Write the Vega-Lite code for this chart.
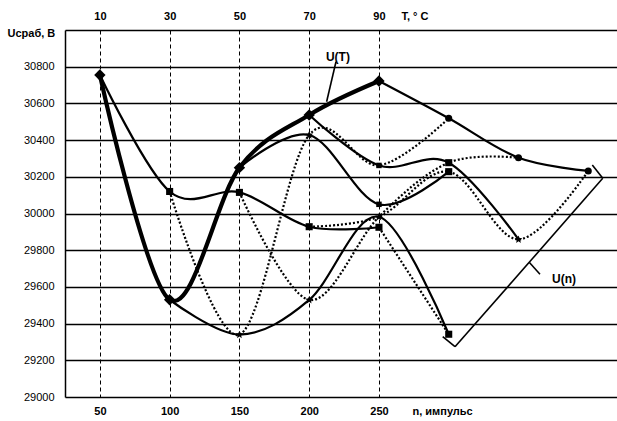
{
  "$schema": "https://vega.github.io/schema/vega-lite/v6.json",
  "width": 552,
  "height": 367,
  "autosize": {"type": "none"},
  "padding": {"left": 65, "top": 30, "right": 0, "bottom": 24},
  "background": "white",
  "config": {
    "view": {"stroke": null},
    "font": "Liberation Sans",
    "axis": {
      "labelFont": "Liberation Sans",
      "labelFontSize": 11,
      "labelFontWeight": "bold",
      "labelColor": "black",
      "titleFont": "Liberation Sans",
      "titleFontSize": 11,
      "titleFontWeight": "bold",
      "titleColor": "black",
      "ticks": false,
      "tickSize": 0
    }
  },
  "datasets": {
    "curves": [
      {"series": "T", "n": 50, "u": 30755},
      {"series": "T", "n": 100, "u": 29530},
      {"series": "T", "n": 150, "u": 30250},
      {"series": "T", "n": 200, "u": 30537},
      {"series": "T", "n": 250, "u": 30722},
      {"series": "Tb", "n": 250, "u": 30722},
      {"series": "Tb", "n": 300, "u": 30519},
      {"series": "Tb", "n": 350, "u": 30304},
      {"series": "Tb", "n": 400, "u": 30232},
      {"series": "a", "n": 50, "u": 30755},
      {"series": "a", "n": 100, "u": 30120},
      {"series": "a", "n": 150, "u": 30115},
      {"series": "a", "n": 200, "u": 29928},
      {"series": "a", "n": 250, "u": 29925},
      {"series": "b", "n": 100, "u": 29530},
      {"series": "b", "n": 150, "u": 29340},
      {"series": "b", "n": 200, "u": 29529},
      {"series": "b", "n": 250, "u": 29982},
      {"series": "b", "n": 300, "u": 29342},
      {"series": "c", "n": 150, "u": 30250},
      {"series": "c", "n": 200, "u": 30428},
      {"series": "c", "n": 250, "u": 30050},
      {"series": "c", "n": 300, "u": 30228},
      {"series": "d", "n": 200, "u": 30537},
      {"series": "d", "n": 250, "u": 30262},
      {"series": "d", "n": 300, "u": 30277},
      {"series": "d", "n": 350, "u": 29859},
      {"series": "e", "n": 100, "u": 30120},
      {"series": "e", "n": 150, "u": 29340},
      {"series": "e", "n": 200, "u": 30428},
      {"series": "e", "n": 250, "u": 30262},
      {"series": "e", "n": 300, "u": 30519},
      {"series": "f", "n": 150, "u": 30115},
      {"series": "f", "n": 200, "u": 29529},
      {"series": "f", "n": 250, "u": 29982},
      {"series": "f", "n": 300, "u": 30277},
      {"series": "f", "n": 350, "u": 30304},
      {"series": "g", "n": 200, "u": 29928},
      {"series": "g", "n": 250, "u": 29982},
      {"series": "g", "n": 300, "u": 30228},
      {"series": "g", "n": 350, "u": 29859},
      {"series": "g", "n": 400, "u": 30232},
      {"series": "h", "n": 250, "u": 29925},
      {"series": "h", "n": 300, "u": 29342}
    ],
    "nodes": [
      {"n": 50, "u": 30755, "node": "big"},
      {"n": 100, "u": 30120, "node": "box"},
      {"n": 100, "u": 29530, "node": "big"},
      {"n": 150, "u": 30250, "node": "big"},
      {"n": 150, "u": 30115, "node": "box"},
      {"n": 150, "u": 29340, "node": "star"},
      {"n": 200, "u": 30537, "node": "big"},
      {"n": 200, "u": 30428, "node": "star"},
      {"n": 200, "u": 29928, "node": "box"},
      {"n": 200, "u": 29529, "node": "star"},
      {"n": 250, "u": 30722, "node": "big"},
      {"n": 250, "u": 30262, "node": "small"},
      {"n": 250, "u": 30050, "node": "small"},
      {"n": 250, "u": 29982, "node": "star"},
      {"n": 250, "u": 29925, "node": "box"},
      {"n": 300, "u": 30519, "node": "dot"},
      {"n": 300, "u": 30277, "node": "box"},
      {"n": 300, "u": 30228, "node": "box"},
      {"n": 300, "u": 29342, "node": "box"},
      {"n": 350, "u": 30304, "node": "dot"},
      {"n": 350, "u": 29859, "node": "star"},
      {"n": 400, "u": 30232, "node": "dot"}
    ],
    "strokes": [
      {"n": 219.2, "u": 30827, "n2": 212.5, "u2": 30609},
      {"n": 402.9, "u": 30264, "n2": 410.4, "u2": 30192},
      {"n": 410.4, "u": 30192, "n2": 357.7, "u2": 29734},
      {"n": 357.7, "u": 29734, "n2": 365.4, "u2": 29669},
      {"n": 357.7, "u": 29734, "n2": 304.5, "u2": 29274},
      {"n": 304.5, "u": 29274, "n2": 295.7, "u2": 29329}
    ],
    "notes": [
      {"n": 220.6, "u": 30853, "label": "U(T)"},
      {"n": 382.6, "u": 29643, "label": "U(n)"}
    ]
  },
  "encoding": {
    "y": {
      "field": "u",
      "type": "quantitative",
      "scale": {"domain": [29000, 31000], "nice": false, "zero": false},
      "axis": {
        "values": [29000, 29200, 29400, 29600, 29800, 30000, 30200, 30400, 30600, 30800, 31000],
        "labelExpr": "datum.value > 30900 ? '' : datum.label",
        "format": "d",
        "labelFontWeight": "normal",
        "labelPadding": 11,
        "grid": true,
        "gridColor": "black",
        "gridWidth": 1.3,
        "gridOpacity": 1,
        "domain": true,
        "domainColor": "black",
        "domainWidth": 1.5,
        "title": "Uсраб, В",
        "titleAngle": 0,
        "titleAlign": "left",
        "titleBaseline": "middle",
        "titleX": -58,
        "titleY": 3
      }
    }
  },
  "resolve": {"axis": {"x": "independent"}},
  "layer": [
    {
      "data": {"name": "curves"},
      "transform": [{"filter": {"field": "series", "oneOf": ["T"]}}],
      "mark": {"type": "line", "interpolate": "cardinal", "color": "black", "strokeWidth": 4.2},
      "encoding": {
        "x": {
          "field": "n",
          "type": "quantitative",
          "scale": {"domain": [25, 420.6], "nice": false, "zero": false},
          "axis": {
            "orient": "bottom",
            "values": [50, 100, 150, 200, 250],
            "labelPadding": 8,
            "grid": true,
            "gridColor": "black",
            "gridWidth": 1,
            "gridDash": [4, 3],
            "gridOpacity": 1,
            "domain": false,
            "title": "n, импульс",
            "titleAlign": "left",
            "titleBaseline": "middle",
            "titleAnchor": "start",
            "titleX": 347,
            "titleY": 14
          }
        },
        "detail": {"field": "series"}
      }
    },
    {
      "data": {"name": "curves"},
      "transform": [{"filter": {"field": "series", "oneOf": ["Tb", "a", "b", "c", "d"]}}],
      "mark": {"type": "line", "interpolate": "cardinal", "color": "black", "strokeWidth": 2.2},
      "encoding": {
        "x": {
          "field": "n",
          "type": "quantitative",
          "axis": {
            "orient": "top",
            "values": [50, 100, 150, 200, 250],
            "labelExpr": "format((datum.value - 50) * 0.4 + 10, 'd')",
            "labelPadding": 9,
            "grid": false,
            "domain": false,
            "title": "T, ° C",
            "titleAlign": "left",
            "titleBaseline": "middle",
            "titleAnchor": "start",
            "titleX": 336,
            "titleY": -14
          }
        },
        "detail": {"field": "series"}
      }
    },
    {
      "data": {"name": "curves"},
      "transform": [{"filter": {"field": "series", "oneOf": ["e", "f", "g", "h"]}}],
      "mark": {"type": "line", "interpolate": "cardinal", "color": "black", "strokeWidth": 2.2, "strokeDash": [2, 2]},
      "encoding": {
        "x": {"field": "n", "type": "quantitative", "axis": null},
        "detail": {"field": "series"}
      }
    },
    {
      "data": {"name": "nodes"},
      "mark": {"type": "point", "filled": true, "color": "black", "opacity": 1},
      "encoding": {
        "x": {"field": "n", "type": "quantitative", "axis": null},
        "shape": {
          "field": "node",
          "type": "nominal",
          "legend": null,
          "scale": {
            "domain": ["big", "box", "small", "star", "dot"],
            "range": ["diamond", "square", "square", "M0,-1L0.3,-0.35L1,-0.3L0.45,0.15L0.6,0.95L0,0.5L-0.6,0.95L-0.45,0.15L-1,-0.3L-0.3,-0.35Z", "circle"]
          }
        },
        "size": {
          "field": "node",
          "type": "nominal",
          "legend": null,
          "scale": {"type": "ordinal", "domain": ["big", "box", "small", "star", "dot"], "range": [130, 50, 30, 60, 50]}
        }
      }
    },
    {
      "data": {"name": "strokes"},
      "mark": {"type": "rule", "color": "black", "strokeWidth": 1.6},
      "encoding": {
        "x": {"field": "n", "type": "quantitative", "axis": null},
        "x2": {"field": "n2"},
        "y2": {"field": "u2"}
      }
    },
    {
      "data": {"name": "notes"},
      "mark": {"type": "text", "font": "Liberation Sans", "fontSize": 12, "fontWeight": "bold", "color": "black", "align": "center", "baseline": "middle"},
      "encoding": {
        "x": {"field": "n", "type": "quantitative", "axis": null},
        "text": {"field": "label"}
      }
    }
  ]
}
